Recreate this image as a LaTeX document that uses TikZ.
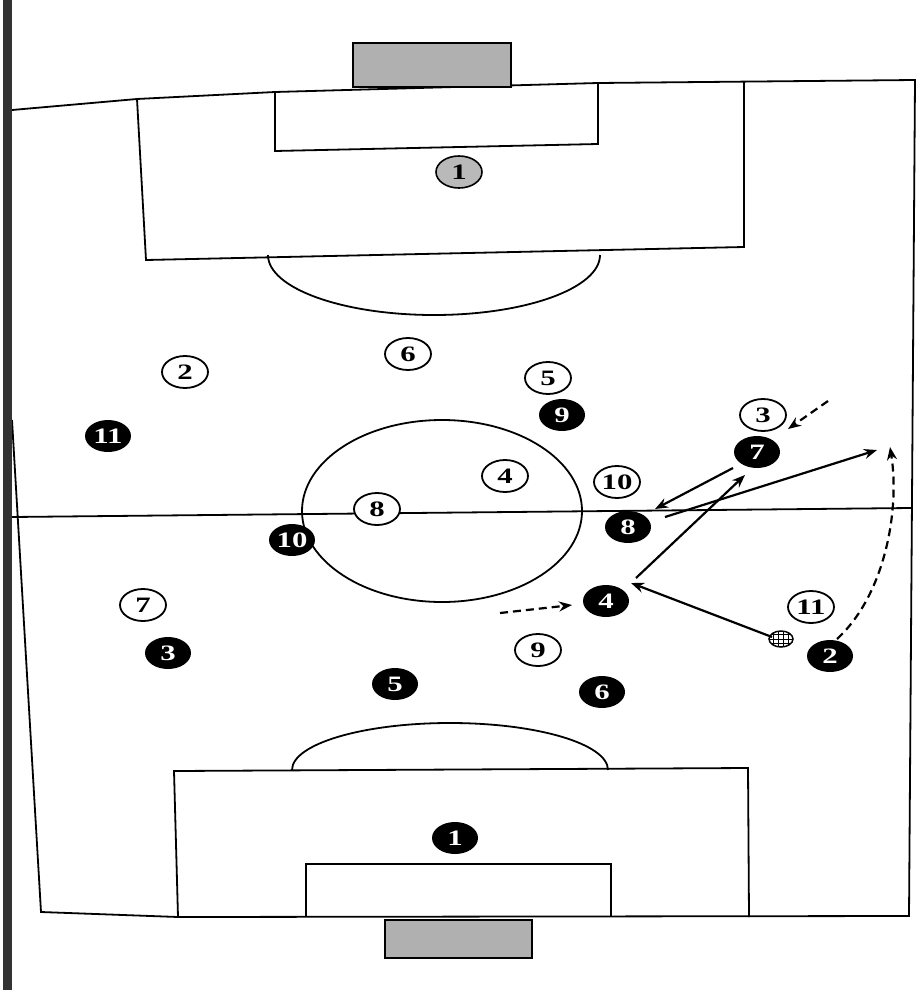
\documentclass[tikz,border=0pt]{standalone}
\usepackage{fontspec}
\usepackage{graphicx}
\setmainfont{Liberation Serif}
\usetikzlibrary{shapes.geometric,arrows.meta}
\newcommand\pnum[1]{\scalebox{1.4}[1]{#1}}
\begin{document}
\begin{tikzpicture}[x=1pt,y=-1pt,
  fieldline/.style={line width=1.8pt},
  player/.style={ellipse, minimum width=46pt, minimum height=32pt, inner sep=0pt,
    font=\fontsize{22}{22}\selectfont\bfseries},
  wpl/.style={player, draw, line width=1.8pt, fill=white},
  bpl/.style={player, fill=black, text=white},
  gpl/.style={player, draw, line width=1.6pt, fill=gray!55},
  pass/.style={line width=2.2pt, -{Stealth[length=13pt,width=10pt]}},
  run/.style={pass, dash pattern=on 8pt off 5pt},
  goalbox/.style={draw, line width=1.6pt, fill=gray!62},
]
\useasboundingbox (0,0) rectangle (917,990);
\fill[white] (0,0) rectangle (917,990);

% field outline
\draw[fieldline] (12,110) -- (137,99) -- (275,92) -- (598,83) -- (915,80)
  -- (909,916) -- (178,917) -- (41,912) -- (12,420);
% top penalty area, goal area, arc
\draw[fieldline] (137,99) -- (146,260) -- (744,247) -- (744,82);
\draw[fieldline] (275,92) -- (275,151) -- (598,144) -- (598,83);
\draw[fieldline] (268,255) arc[start angle=180, end angle=0, x radius=166, y radius=60];
% bottom penalty area, goal area, arc
\draw[fieldline] (178,917) -- (174,771) -- (748,768) -- (749,917);
\draw[fieldline] (306,917) -- (306,864) -- (611,864) -- (611,917);
\draw[fieldline] (292,770) arc[start angle=180, end angle=360, x radius=158, y radius=47];
% goals
\draw[goalbox] (353,43) rectangle (511,87);
\draw[goalbox] (385,920) rectangle (532,958);
% centre circle and halfway line
\draw[fieldline] (442,511) ellipse[x radius=140, y radius=91];
\draw[fieldline] (12,517) -- (911,508);
% left dark bar
\fill[black!80] (3,0) rectangle (12,990);

% goalkeepers
\node[gpl] (g1) at (459,172) {\pnum{1}};
\node[bpl] (b1) at (455,838) {\pnum{1}};

% white team
\node[wpl] (w2) at (185,372) {\pnum{2}};
\node[wpl] (w6) at (408,354) {\pnum{6}};
\node[wpl] (w5) at (548,378) {\pnum{5}};
\node[wpl] (w3) at (763,415) {\pnum{3}};
\node[wpl] (w4) at (505,476) {\pnum{4}};
\node[wpl] (w10) at (617,482) {\pnum{10}};
\node[wpl] (w8) at (377,509) {\pnum{8}};
\node[wpl] (w7) at (143,605) {\pnum{7}};
\node[wpl] (w9) at (538,650) {\pnum{9}};
\node[wpl] (w11) at (811,607) {\pnum{11}};

% black team
\node[bpl] (b11) at (108,436) {\pnum{11}};
\node[bpl] (b9) at (562,415) {\pnum{9}};
\node[bpl] (b7) at (757,452) {\pnum{7}};
\node[bpl] (b8) at (628,527) {\pnum{8}};
\node[bpl] (b10) at (292,540) {\pnum{10}};
\node[bpl] (b4) at (606,601) {\pnum{4}};
\node[bpl] (b3) at (168,653) {\pnum{3}};
\node[bpl] (b5) at (395,684) {\pnum{5}};
\node[bpl] (b6) at (602,692) {\pnum{6}};
\node[bpl] (b2) at (830,656) {\pnum{2}};

% ball
\node[ellipse, draw, line width=1.5pt, fill=white, minimum width=24pt, minimum height=16pt, inner sep=0pt,
  path picture={
    \foreach \k in {-8,-3,2,7}{\draw[line width=1pt] ([xshift=\k pt]path picture bounding box.south) -- ([xshift=\k pt]path picture bounding box.north);}
    \foreach \k in {-4.5,0,4.5}{\draw[line width=1pt] ([yshift=\k pt]path picture bounding box.west) -- ([yshift=\k pt]path picture bounding box.east);}
  }] (ball) at (781,639) {};

% free ends
\coordinate (t1) at (877,450);
\coordinate (t2) at (890,447);
\coordinate (d1) at (828,401);
\coordinate (d2) at (500,613);

% passes
\draw[pass] ([shift={(-9,-2)}]ball.center) -- ([shift={(25,-18)}]b4.center);
\draw[pass] ([shift={(30,-23)}]b4.center) -- ([shift={(-12,23)}]b7.center);
\draw[pass] ([shift={(-24,16)}]b7.center) -- ([shift={(27,-18)}]b8.center);
\draw[pass] ([shift={(37,-10)}]b8.center) -- (t1);
% runs
\draw[run] ([shift={(7,-17)}]b2.center) .. controls (885,595) and (900,510) .. (t2);
\draw[run] (d1) -- ([shift={(25,14)}]w3.center);
\draw[run] (d2) -- ([shift={(-34,4)}]b4.center);
\end{tikzpicture}
\end{document}
